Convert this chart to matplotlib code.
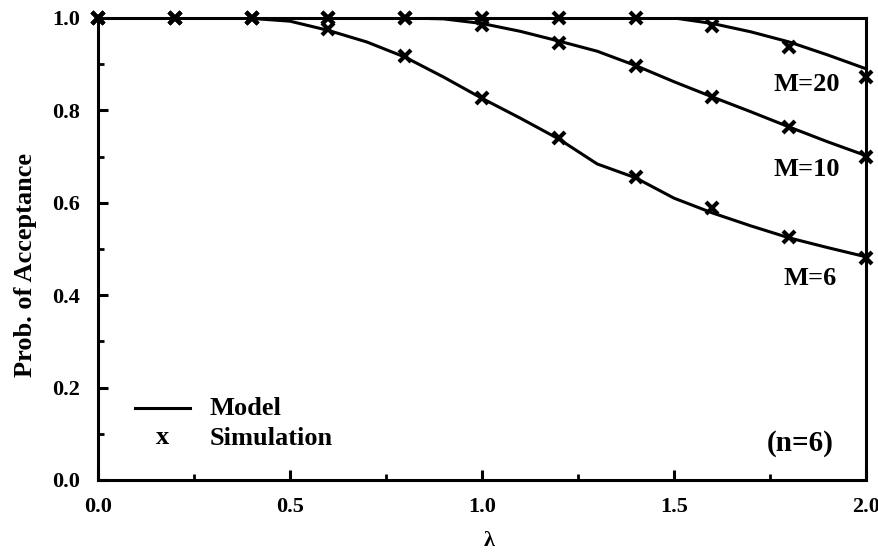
import matplotlib
matplotlib.use("Agg")
import matplotlib.pyplot as plt
from matplotlib.ticker import MultipleLocator

# simulation points
lam_sim = [0.0, 0.2, 0.4, 0.6, 0.8, 1.0, 1.2, 1.4, 1.6, 1.8, 2.0]
sim_m6 = [1.0, 1.0, 1.0, 0.976, 0.918, 0.827, 0.740, 0.655, 0.589, 0.526, 0.481]
sim_m10 = [1.0, 1.0, 1.0, 1.0, 1.0, 0.985, 0.946, 0.896, 0.829, 0.764, 0.700]
sim_m20 = [1.0, 1.0, 1.0, 1.0, 1.0, 1.0, 1.0, 1.0, 0.982, 0.938, 0.872]

# model curves
lam_model = [0.0, 0.2, 0.4, 0.5, 0.6, 0.7, 0.8, 0.9, 1.0, 1.1, 1.2, 1.3,
             1.4, 1.5, 1.6, 1.7, 1.8, 1.9, 2.0]
model_m6 = [1.0, 1.0, 0.999, 0.993, 0.973, 0.948, 0.915, 0.872, 0.826, 0.783,
            0.738, 0.684, 0.654, 0.610, 0.578, 0.550, 0.524, 0.503, 0.483]
model_m10 = [1.0, 1.0, 1.0, 1.0, 1.0, 1.0, 1.0, 0.998, 0.988, 0.971,
             0.950, 0.928, 0.897, 0.862, 0.829, 0.797, 0.764, 0.732, 0.702]
model_m20 = [1.0, 1.0, 1.0, 1.0, 1.0, 1.0, 1.0, 1.0, 1.0, 1.0,
             1.0, 1.0, 1.0, 1.0, 0.988, 0.970, 0.948, 0.920, 0.890]

plt.rcParams['font.family'] = ['Liberation Serif', 'DejaVu Serif']
plt.rcParams['font.weight'] = 'bold'

fig = plt.figure(figsize=(8.79, 5.54), dpi=100)
ax = fig.add_axes([0.1115, 0.1336, 0.8737, 0.834])

for m in (model_m6, model_m10, model_m20):
    ax.plot(lam_model, m, color='black', lw=2.2, solid_joinstyle='round', zorder=3)
for s in (sim_m6, sim_m10, sim_m20):
    ax.plot(lam_sim, s, ls='none', marker='x', ms=9, mew=3, color='black',
            zorder=4, clip_on=False)

ax.set_xlim(0, 2.0)
ax.set_ylim(0, 1.0)
ax.xaxis.set_major_locator(MultipleLocator(0.5))
ax.xaxis.set_minor_locator(MultipleLocator(0.25))
ax.yaxis.set_major_locator(MultipleLocator(0.2))
ax.yaxis.set_minor_locator(MultipleLocator(0.1))
ax.xaxis.set_major_formatter(plt.FormatStrFormatter('%.1f'))
ax.yaxis.set_major_formatter(plt.FormatStrFormatter('%.1f'))
ax.tick_params(which='major', direction='in', length=7, width=2.2,
               labelsize=16, top=False, right=False)
ax.tick_params(which='minor', direction='in', length=4, width=2,
               top=False, right=False)
ax.tick_params(axis='x', pad=12)
ax.tick_params(axis='y', pad=13)
for sp in ax.spines.values():
    sp.set_linewidth(2.2)

ax.set_xlabel('λ', fontsize=16, fontweight='bold')
ax.set_ylabel('Prob. of Acceptance', fontsize=19, fontweight='bold')
ax.xaxis.set_label_coords(0.509, -0.11)
ax.yaxis.set_label_coords(-0.08, 0.465)

ax.text(1.846, 0.855, 'M=20', fontsize=19, fontweight='bold', ha='center', va='center')
ax.text(1.846, 0.671, 'M=10', fontsize=19, fontweight='bold', ha='center', va='center')
ax.text(1.854, 0.437, 'M=6', fontsize=19, fontweight='bold', ha='center', va='center')
ax.text(1.828, 0.08, '(n=6)', fontsize=21, fontweight='bold', ha='center', va='center')

# legend drawn by hand
ax.plot([0.096, 0.24], [0.155, 0.155], color='black', lw=2.2)
ax.text(0.29, 0.155, 'Model', fontsize=19, fontweight='bold', va='center')
ax.text(0.168, 0.092, 'x', fontsize=19, fontweight='bold', ha='center', va='center')
ax.text(0.29, 0.09, 'Simulation', fontsize=19, fontweight='bold', va='center')

fig.savefig('out.png', dpi=100)
